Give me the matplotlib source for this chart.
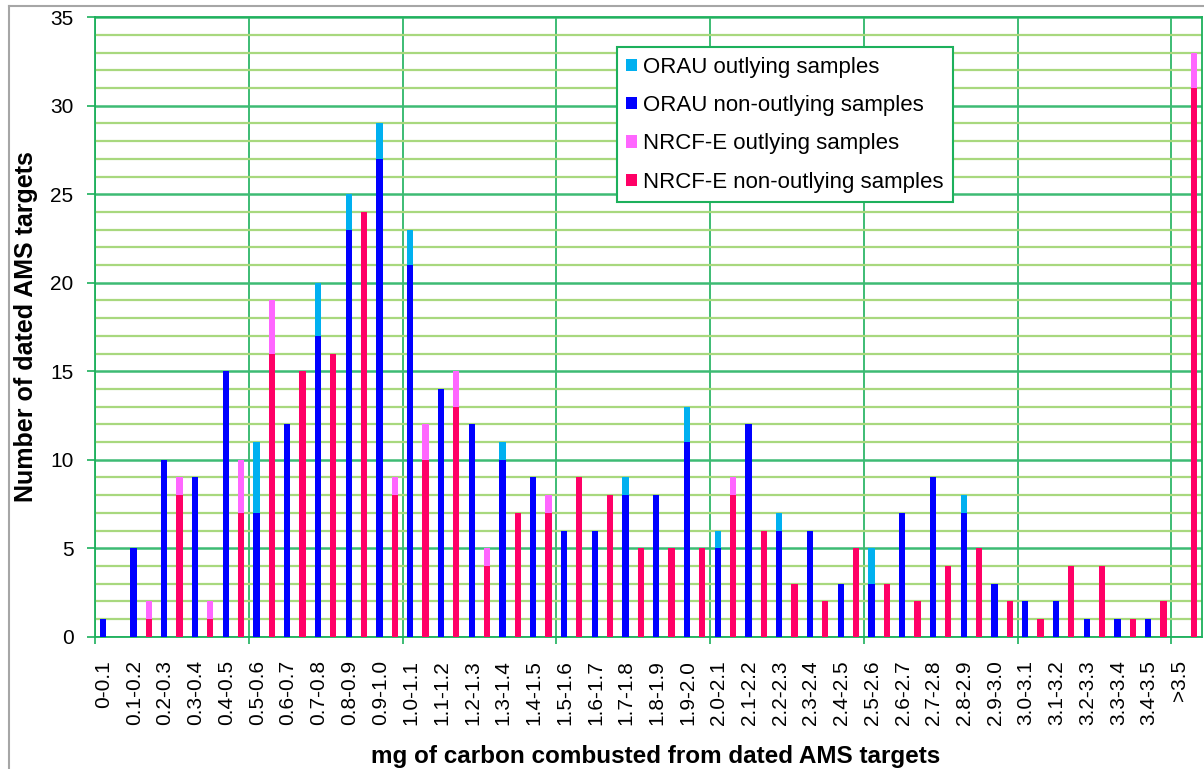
import matplotlib
matplotlib.use("Agg")
import matplotlib.pyplot as plt
from matplotlib.patches import Patch
from matplotlib.lines import Line2D
from matplotlib.ticker import MultipleLocator, FixedLocator
import numpy as np

plt.rcParams["font.family"] = ["Liberation Sans", "DejaVu Sans"]

categories = ["0-0.1", "0.1-0.2", "0.2-0.3", "0.3-0.4", "0.4-0.5", "0.5-0.6",
              "0.6-0.7", "0.7-0.8", "0.8-0.9", "0.9-1.0", "1.0-1.1", "1.1-1.2",
              "1.2-1.3", "1.3-1.4", "1.4-1.5", "1.5-1.6", "1.6-1.7", "1.7-1.8",
              "1.8-1.9", "1.9-2.0", "2.0-2.1", "2.1-2.2", "2.2-2.3", "2.3-2.4",
              "2.4-2.5", "2.5-2.6", "2.6-2.7", "2.7-2.8", "2.8-2.9", "2.9-3.0",
              "3.0-3.1", "3.1-3.2", "3.2-3.3", "3.3-3.4", "3.4-3.5", ">3.5"]

orau_non = [1, 5, 10, 9, 15, 7, 12, 17, 23, 27, 21, 14, 12, 10, 9, 6, 6, 8,
            8, 11, 5, 12, 6, 6, 3, 3, 7, 9, 7, 3, 2, 2, 1, 1, 1, 0]
orau_out = [0, 0, 0, 0, 0, 4, 0, 3, 2, 2, 2, 0, 0, 1, 0, 0, 0, 1,
            0, 2, 1, 0, 1, 0, 0, 2, 0, 0, 1, 0, 0, 0, 0, 0, 0, 0]
nrcf_non = [0, 1, 8, 1, 7, 16, 15, 16, 24, 8, 10, 13, 4, 7, 7, 9, 8, 5,
            5, 5, 8, 6, 3, 2, 5, 3, 2, 4, 5, 2, 1, 4, 4, 1, 2, 31]
nrcf_out = [0, 1, 1, 1, 3, 3, 0, 0, 0, 1, 2, 2, 1, 0, 1, 0, 0, 0,
            0, 0, 1, 0, 0, 0, 0, 0, 0, 0, 0, 0, 0, 0, 0, 0, 0, 2]

legend_labels = ["ORAU outlying samples", "ORAU non-outlying samples",
                 "NRCF-E outlying samples", "NRCF-E non-outlying samples"]

C_ORAU_OUT = "#00B0F0"
C_ORAU_NON = "#0000FF"
C_NRCF_OUT = "#FF66FF"
C_NRCF_NON = "#FF0066"
GRID_MAJOR = "#3DBB74"
GRID_MINOR = "#A8D87E"
AXIS_GREEN = "#1DB05C"

W, H = 1204, 769
fig = plt.figure(figsize=(W / 100, H / 100), dpi=100)
left, right, top, bottom = 95, 1202, 17.3, 636.7
ax = fig.add_axes([left / W, 1 - bottom / H, (right - left) / W, (bottom - top) / H])

x = np.arange(len(categories))
bw = 0.2
ax.bar(x - 0.25, orau_non, width=bw, color=C_ORAU_NON, zorder=3)
ax.bar(x - 0.25, orau_out, width=bw, bottom=orau_non, color=C_ORAU_OUT, zorder=3)
ax.bar(x + 0.25, nrcf_non, width=bw, color=C_NRCF_NON, zorder=3)
ax.bar(x + 0.25, nrcf_out, width=bw, bottom=nrcf_non, color=C_NRCF_OUT, zorder=3)

ax.set_xlim(-0.5, len(categories) - 0.5)
ax.set_ylim(0, 35)

# y axis: labelled every 5, light gridlines every 1
ax.yaxis.set_major_locator(MultipleLocator(5))
ax.yaxis.set_minor_locator(MultipleLocator(1))
ax.grid(which="minor", axis="y", color=GRID_MINOR, lw=1.6, zorder=0)
ax.grid(which="major", axis="y", color=GRID_MAJOR, lw=1.8, zorder=0)
ax.tick_params(axis="y", which="major", length=5.5, width=1.2, color=AXIS_GREEN,
               labelsize=15, pad=10)
ax.tick_params(axis="y", which="minor", length=0)

# x axis: category labels, tick marks and gridlines every 5 categories
ax.xaxis.set_major_locator(FixedLocator(x - 0.22))
ax.set_xticklabels(categories, rotation=90, va="top", ha="center")
ax.xaxis.set_minor_locator(FixedLocator(np.arange(-0.5, len(categories) - 1, 5)))
ax.tick_params(axis="x", which="major", length=0, labelsize=15, pad=17)
ax.tick_params(axis="x", which="minor", length=5, width=1.2, color=AXIS_GREEN)
ax.grid(which="minor", axis="x", color=AXIS_GREEN, lw=1.2, zorder=1)
ax.grid(which="major", axis="x", visible=False)

for s in ax.spines.values():
    s.set_color(AXIS_GREEN)
    s.set_linewidth(1.3)

ax.set_ylabel("Number of dated AMS targets", fontsize=18, fontweight="bold")
ax.yaxis.set_label_coords(-(left - 26) / (right - left), 0.5)
ax.set_xlabel("mg of carbon combusted from dated AMS targets", fontsize=17.5,
              fontweight="bold")
ax.xaxis.set_label_coords((656 - left) / (right - left), -(757 - bottom) / (bottom - top))
ax.xaxis.label.set_va("center")
ax.yaxis.label.set_va("center")

handles = [Patch(facecolor=C_ORAU_OUT), Patch(facecolor=C_ORAU_NON),
           Patch(facecolor=C_NRCF_OUT), Patch(facecolor=C_NRCF_NON)]
leg = ax.legend(handles, legend_labels, loc="upper left",
                bbox_to_anchor=((617 - left) / (right - left), (bottom - 47.5) / (bottom - top)),
                borderaxespad=0, fontsize=16, frameon=True, fancybox=False,
                framealpha=1, edgecolor=AXIS_GREEN, handlelength=0.47,
                handleheight=0.47, handletextpad=0.3, labelspacing=0.78,
                borderpad=0.42)
leg.get_frame().set_linewidth(1.5)
leg.set_zorder(5)

# chart-area border
fig.add_artist(Line2D([8.5 / W, 8.5 / W], [0, 1 - 6 / H], transform=fig.transFigure,
                      color="#A6A6A6", lw=1.5))
fig.add_artist(Line2D([8.5 / W, 1], [1 - 6 / H, 1 - 6 / H], transform=fig.transFigure,
                      color="#A6A6A6", lw=1.5))

fig.savefig("out.png", dpi=100)
